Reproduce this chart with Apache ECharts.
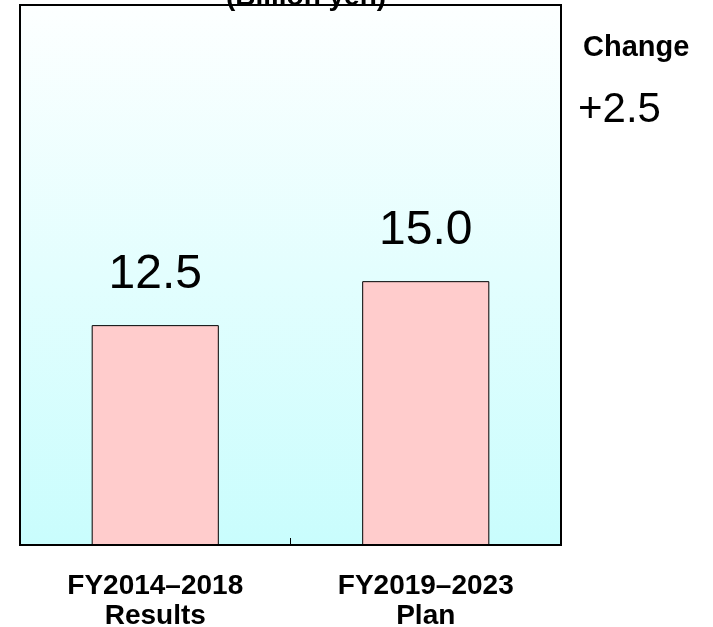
<!DOCTYPE html>
<html>
<head>
<meta charset="utf-8">
<script src="https://cdn.jsdelivr.net/npm/echarts@6/dist/echarts.min.js"></script>
<style>
html, body { margin: 0; padding: 0; background: #fff; }
#chart { width: 713px; height: 627px; }
</style>
</head>
<body>
<div id="chart"></div>
<script>
// データ
const categories = ["FY2014\u20132018\nResults", "FY2019\u20132023\nPlan"];
const values = [12.5, 15.0];
const unitLabel = "(Billion yen)";
const changeTitle = "Change";
const changeValue = "+2.5";

const chart = echarts.init(document.getElementById("chart"));
const font = "'Liberation Sans', Arial, sans-serif";

const option = {
    animation: false,
    grid: {
        left: 20,
        right: 152,
        top: 5,
        bottom: 82,
        outerBoundsMode: "none",
        containLabel: false,
        show: true,
        borderColor: "#000",
        borderWidth: 2,
        backgroundColor: new echarts.graphic.LinearGradient(0, 0, 0, 1, [
            { offset: 0, color: "#fdffff" },
            { offset: 1, color: "#c9fdfd" },
        ]),
    },
    xAxis: {
        type: "category",
        data: categories,
        z: 10,
        axisLine: { lineStyle: { color: "#000", width: 2 } },
        axisTick: { show: true, inside: true, length: 7, lineStyle: { color: "#000", width: 1 } },
        axisLabel: {
            color: "#000",
            fontFamily: font,
            fontWeight: "bold",
            fontSize: 28,
            lineHeight: 30,
            margin: 26,
        },
    },
    yAxis: {
        type: "value",
        min: 0,
        max: 30.7,
        show: false,
        splitLine: { show: false },
    },
    series: [
        {
            type: "bar",
            data: values,
            barWidth: "47%",
            itemStyle: {
                color: "#ffcccc",
                borderColor: "#000",
                borderWidth: 1,
            },
            label: {
                show: true,
                position: "top",
                distance: 26,
                color: "#000",
                fontFamily: font,
                fontSize: 48,
                formatter: function (p) {
                    return p.value.toFixed(1);
                },
            },
        },
    ],
    graphic: [
        {
            type: "text",
            x: 306,
            y: -3,
            z: 100,
            style: {
                text: unitLabel,
                fill: "#000",
                font: "bold 28px " + font,
                align: "center",
                verticalAlign: "middle",
            },
        },
        {
            type: "text",
            x: 583,
            y: 48,
            style: {
                text: changeTitle,
                fill: "#000",
                font: "bold 29px " + font,
                align: "left",
                verticalAlign: "middle",
            },
        },
        {
            type: "text",
            x: 578,
            y: 110,
            style: {
                text: changeValue,
                fill: "#000",
                font: "42px " + font,
                align: "left",
                verticalAlign: "middle",
            },
        },
    ],
};
chart.setOption(option);
</script>
</body>
</html>
